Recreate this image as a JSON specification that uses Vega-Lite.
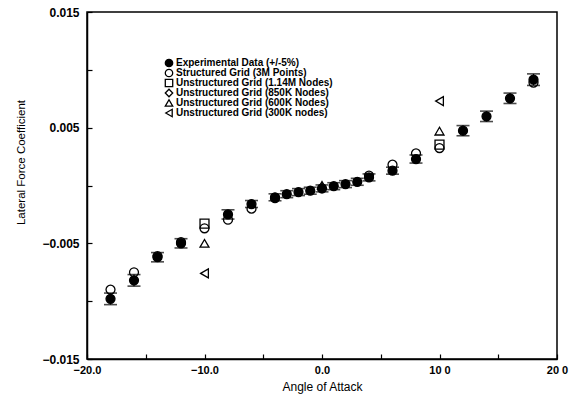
{
  "$schema": "https://vega.github.io/schema/vega-lite/v6.json",
  "autosize": "none",
  "width": 470,
  "height": 347,
  "padding": {"left": 87, "top": 12, "right": 19, "bottom": 42},
  "background": "white",
  "config": {
    "view": {"stroke": "black", "strokeWidth": 1.5},
    "axis": {
      "grid": false,
      "domainColor": "black",
      "domainWidth": 1.5,
      "tickColor": "black",
      "tickSize": -5,
      "tickWidth": 1.2,
      "labelColor": "black",
      "labelFont": "Liberation Sans",
      "labelFontWeight": "bold",
      "titleFont": "Liberation Sans",
      "titleColor": "black",
      "titleFontWeight": "normal",
      "labelOverlap": false,
      "labelFlush": false
    },
    "legend": {
      "orient": "none",
      "legendX": 77,
      "legendY": 46,
      "padding": 0,
      "labelFont": "Liberation Sans",
      "labelFontSize": 10,
      "labelFontWeight": "bold",
      "labelColor": "black",
      "labelOffset": 2,
      "rowPadding": 0,
      "clipHeight": 10,
      "symbolSize": 55,
      "symbolStrokeWidth": 1.3,
      "title": null
    }
  },
  "data": {
    "values": [
      {"x": -18, "y": -0.0090, "series": "Structured Grid (3M Points)"},
      {"x": -16, "y": -0.0075, "series": "Structured Grid (3M Points)"},
      {"x": -14, "y": -0.0061, "series": "Structured Grid (3M Points)"},
      {"x": -12, "y": -0.0049, "series": "Structured Grid (3M Points)"},
      {"x": -10, "y": -0.0037, "series": "Structured Grid (3M Points)"},
      {"x": -8, "y": -0.00296, "series": "Structured Grid (3M Points)"},
      {"x": -6, "y": -0.0020, "series": "Structured Grid (3M Points)"},
      {"x": -4, "y": -0.0011, "series": "Structured Grid (3M Points)"},
      {"x": 4, "y": 0.00085, "series": "Structured Grid (3M Points)"},
      {"x": 6, "y": 0.0018, "series": "Structured Grid (3M Points)"},
      {"x": 8, "y": 0.00278, "series": "Structured Grid (3M Points)"},
      {"x": 10, "y": 0.00324, "series": "Structured Grid (3M Points)"},
      {"x": 18, "y": 0.0089, "series": "Structured Grid (3M Points)"},
      {"x": -10, "y": -0.0033, "series": "Unstructured Grid (1.14M Nodes)"},
      {"x": 10, "y": 0.00353, "series": "Unstructured Grid (1.14M Nodes)"},
      {"x": 0, "y": -0.00025, "series": "Unstructured Grid (850K Nodes)"},
      {"x": -10, "y": -0.0050, "series": "Unstructured Grid (600K Nodes)"},
      {"x": 0, "y": 0.0000, "series": "Unstructured Grid (600K Nodes)"},
      {"x": 10, "y": 0.0047, "series": "Unstructured Grid (600K Nodes)"},
      {"x": -10, "y": -0.0076, "series": "Unstructured Grid (300K nodes)"},
      {"x": 10, "y": 0.0073, "series": "Unstructured Grid (300K nodes)"},
      {"x": -18, "y": -0.0098, "lo": -0.0103, "hi": -0.0093, "series": "Experimental Data (+/-5%)"},
      {"x": -16, "y": -0.0082, "lo": -0.0087, "hi": -0.0077, "series": "Experimental Data (+/-5%)"},
      {"x": -14, "y": -0.0062, "lo": -0.0066, "hi": -0.0058, "series": "Experimental Data (+/-5%)"},
      {"x": -12, "y": -0.0050, "lo": -0.0054, "hi": -0.0046, "series": "Experimental Data (+/-5%)"},
      {"x": -8, "y": -0.0025, "lo": -0.0029, "hi": -0.0021, "series": "Experimental Data (+/-5%)"},
      {"x": -6, "y": -0.0016, "lo": -0.0019, "hi": -0.0013, "series": "Experimental Data (+/-5%)"},
      {"x": -4, "y": -0.00102, "lo": -0.00132, "hi": -0.00072, "series": "Experimental Data (+/-5%)"},
      {"x": -3, "y": -0.00075, "lo": -0.00105, "hi": -0.00045, "series": "Experimental Data (+/-5%)"},
      {"x": -2, "y": -0.00057, "lo": -0.00087, "hi": -0.00027, "series": "Experimental Data (+/-5%)"},
      {"x": -1, "y": -0.00045, "lo": -0.00075, "hi": -0.00015, "series": "Experimental Data (+/-5%)"},
      {"x": 0, "y": -0.00025, "lo": -0.00055, "hi": 0.00005, "series": "Experimental Data (+/-5%)"},
      {"x": 1, "y": -0.00006, "lo": -0.00036, "hi": 0.00024, "series": "Experimental Data (+/-5%)"},
      {"x": 2, "y": 0.00012, "lo": -0.00018, "hi": 0.00042, "series": "Experimental Data (+/-5%)"},
      {"x": 3, "y": 0.00032, "lo": 0.00002, "hi": 0.00062, "series": "Experimental Data (+/-5%)"},
      {"x": 4, "y": 0.0007, "lo": 0.0004, "hi": 0.001, "series": "Experimental Data (+/-5%)"},
      {"x": 6, "y": 0.00128, "lo": 0.00098, "hi": 0.00158, "series": "Experimental Data (+/-5%)"},
      {"x": 8, "y": 0.00229, "lo": 0.00194, "hi": 0.00264, "series": "Experimental Data (+/-5%)"},
      {"x": 12, "y": 0.00474, "lo": 0.0043, "hi": 0.00518, "series": "Experimental Data (+/-5%)"},
      {"x": 14, "y": 0.00598, "lo": 0.00553, "hi": 0.00643, "series": "Experimental Data (+/-5%)"},
      {"x": 16, "y": 0.00754, "lo": 0.00709, "hi": 0.00799, "series": "Experimental Data (+/-5%)"},
      {"x": 18, "y": 0.00915, "lo": 0.00865, "hi": 0.00965, "series": "Experimental Data (+/-5%)"}
    ]
  },
  "encoding": {
    "x": {
      "field": "x", "type": "quantitative",
      "scale": {"domain": [-20, 20], "nice": false, "zero": false},
      "axis": {
        "title": "Angle of Attack",
        "titleFontSize": 12,
        "titleY": 31,
        "titleBaseline": "alphabetic",
        "values": [-20, -15, -10, -5, 0, 5, 10, 15, 20],
        "labelExpr": "datum.value == 10 ? '10 0' : datum.value == 20 ? '20 0' : (datum.value % 10 == 0 ? format(datum.value, '.1f') : '')",
        "labelFontSize": 11,
        "labelPadding": 10,
        "labelDx": 7
      }
    }
  },
  "layer": [
    {
      "transform": [{"filter": "isValid(datum.lo)"}],
      "mark": {"type": "rule", "color": "black", "strokeWidth": 1.3},
      "encoding": {
        "y": {
          "field": "lo", "type": "quantitative",
          "scale": {"domain": [-0.015, 0.015], "nice": false, "zero": false},
          "axis": {
            "title": "Lateral Force Coefficient",
            "titleFontSize": 11.5,
            "titleX": -66,
            "titleY": 150,
            "titleBaseline": "middle",
            "values": [-0.015, -0.01, -0.005, 0, 0.005, 0.01, 0.015],
            "labelExpr": "(abs(round(datum.value*1000)) == 15 || abs(round(datum.value*1000)) == 5) ? format(datum.value, '.3f') : ''",
            "labelFontSize": 12,
            "labelPadding": 13
          }
        },
        "y2": {"field": "hi"}
      }
    },
    {
      "transform": [{"filter": "isValid(datum.lo)"}],
      "mark": {"type": "tick", "orient": "horizontal", "color": "black", "size": 13, "thickness": 1.6},
      "encoding": {
        "y": {"field": "lo", "type": "quantitative", "title": "Lateral Force Coefficient"}
      }
    },
    {
      "transform": [{"filter": "isValid(datum.hi)"}],
      "mark": {"type": "tick", "orient": "horizontal", "color": "black", "size": 13, "thickness": 1.6},
      "encoding": {
        "y": {"field": "hi", "type": "quantitative", "title": "Lateral Force Coefficient"}
      }
    },
    {
      "mark": {"type": "point", "filled": true, "strokeWidth": 1.3, "size": 80, "opacity": 1},
      "encoding": {
        "y": {"field": "y", "type": "quantitative", "title": "Lateral Force Coefficient"},
        "shape": {
          "field": "series", "type": "nominal",
          "scale": {
            "domain": ["Experimental Data (+/-5%)", "Structured Grid (3M Points)", "Unstructured Grid (1.14M Nodes)", "Unstructured Grid (850K Nodes)", "Unstructured Grid (600K Nodes)", "Unstructured Grid (300K nodes)"],
            "range": ["circle", "circle", "square", "diamond", "triangle-up", "triangle-left"]
          },
          "legend": {"clipHeight": 10, "rowPadding": 0, "symbolSize": 55}
        },
        "fill": {
          "field": "series", "type": "nominal",
          "scale": {
            "domain": ["Experimental Data (+/-5%)", "Structured Grid (3M Points)", "Unstructured Grid (1.14M Nodes)", "Unstructured Grid (850K Nodes)", "Unstructured Grid (600K Nodes)", "Unstructured Grid (300K nodes)"],
            "range": ["black", "transparent", "transparent", "transparent", "transparent", "transparent"]
          }
        },
        "stroke": {
          "field": "series", "type": "nominal",
          "scale": {
            "domain": ["Experimental Data (+/-5%)", "Structured Grid (3M Points)", "Unstructured Grid (1.14M Nodes)", "Unstructured Grid (850K Nodes)", "Unstructured Grid (600K Nodes)", "Unstructured Grid (300K nodes)"],
            "range": ["black", "black", "black", "black", "black", "black"]
          }
        },
        "order": {"field": "series", "sort": "descending"}
      }
    }
  ]
}
